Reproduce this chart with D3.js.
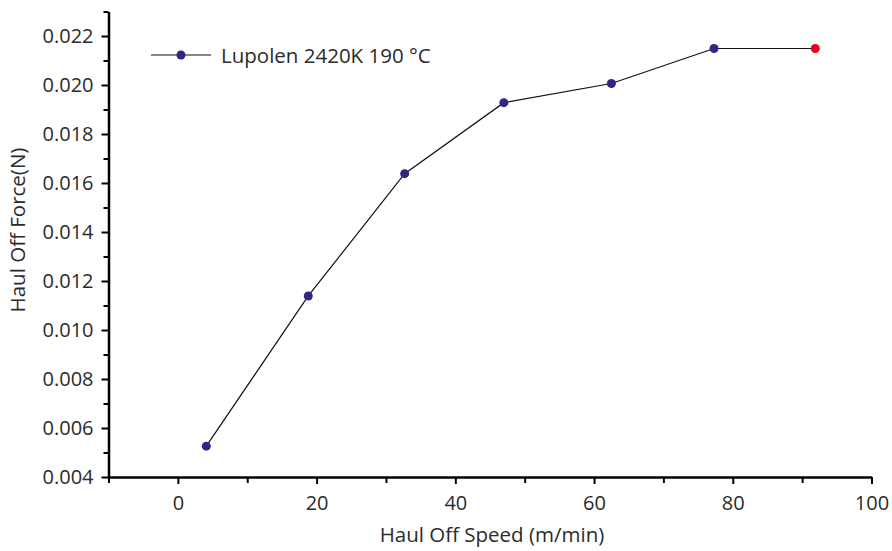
<!DOCTYPE html>
<html>
<head>
<meta charset="utf-8">
<script src="https://cdn.jsdelivr.net/npm/d3@7"></script>
<style>
body { margin: 0; background: #fff; }
text { font-family: "Open Sans", "Noto Sans", sans-serif; fill: #2b2b2b; }
</style>
</head>
<body>
<div id="chart"></div>
<script>
chart_width = 892;
chart_height = 551;

// data
speeds = [4.1, 18.8, 32.7, 47.0, 62.5, 77.3, 91.9];
forces = [0.00526, 0.01139, 0.01638, 0.01928, 0.02006, 0.02149, 0.02149];
point_colors = ['#2e2884', '#2e2884', '#2e2884', '#2e2884', '#2e2884', '#2e2884', '#e8001a'];
x_ticks = [0, 20, 40, 60, 80, 100];
y_ticks = [0.004, 0.006, 0.008, 0.010, 0.012, 0.014, 0.016, 0.018, 0.020, 0.022];
series_name = 'Lupolen 2420K 190 °C';

x_scale = d3.scaleLinear()
	.domain([-10, 100])
	.range([108.5, 871.5]);

y_scale = d3.scaleLinear()
	.domain([0.004, 0.023])
	.range([477, 11.5]);

svg = d3.select('#chart')
	.append('svg')
	.attr('width', chart_width)
	.attr('height', chart_height);

// minor ticks
svg.append('g')
	.attr('transform', 'translate(0,477)')
	.call(d3.axisBottom(x_scale).tickValues(d3.range(-10, 101, 20)).tickSize(6).tickFormat(''))
	.call((g) => g.select('.domain').remove())
	.selectAll('line').attr('stroke-width', 2);

svg.append('g')
	.attr('transform', 'translate(108.5,0)')
	.call(d3.axisLeft(y_scale).tickValues(d3.range(0.005, 0.0235, 0.002)).tickSize(5).tickFormat(''))
	.call((g) => g.select('.domain').remove())
	.selectAll('line').attr('stroke-width', 2);

// major ticks + labels
x_axis = svg.append('g')
	.attr('transform', 'translate(0,477)')
	.call(d3.axisBottom(x_scale).tickValues(x_ticks).tickSize(7).tickSizeOuter(0).tickPadding(12).tickFormat(d3.format('d')));

y_axis = svg.append('g')
	.attr('transform', 'translate(108.5,0)')
	.call(d3.axisLeft(y_scale).tickValues(y_ticks).tickSize(7).tickSizeOuter(0).tickPadding(8).tickFormat(d3.format('.3f')));

[x_axis, y_axis].forEach(function(ax) {
	ax.select('.domain').attr('stroke-width', 2.5);
	ax.selectAll('line').attr('stroke-width', 2);
	ax.selectAll('text')
		.attr('font-size', 20)
		.attr('font-family', '"Open Sans", "Noto Sans", sans-serif')
		.attr('fill', '#2b2b2b');
});

// axis titles
svg.append('text')
	.attr('x', 492)
	.attr('y', 542)
	.attr('text-anchor', 'middle')
	.attr('font-size', 20.5)
	.text('Haul Off Speed (m/min)');

svg.append('text')
	.attr('transform', 'translate(25,230) rotate(-90)')
	.attr('text-anchor', 'middle')
	.attr('font-size', 20.5)
	.text('Haul Off Force(N)');

// line
points = speeds.map((s, i) => ({ x: s, y: forces[i], c: point_colors[i] }));

svg.append('path')
	.datum(points)
	.attr('fill', 'none')
	.attr('stroke', '#111')
	.attr('stroke-width', 1.2)
	.attr('d', d3.line().x((d) => x_scale(d.x)).y((d) => y_scale(d.y)));

svg.selectAll('circle.pt')
	.data(points)
	.enter()
	.append('circle')
	.attr('class', 'pt')
	.attr('cx', (d) => x_scale(d.x))
	.attr('cy', (d) => y_scale(d.y))
	.attr('r', 4.5)
	.attr('fill', (d) => d.c);

// legend
legend = svg.append('g');
legend.append('line')
	.attr('x1', 151).attr('x2', 211)
	.attr('y1', 55).attr('y2', 55)
	.attr('stroke', '#111')
	.attr('stroke-width', 1.2);
legend.append('circle')
	.attr('cx', 181).attr('cy', 55).attr('r', 4.5)
	.attr('fill', point_colors[0]);
legend.append('text')
	.attr('x', 221)
	.attr('y', 62.5)
	.attr('font-size', 20.5)
	.text(series_name);
</script>
</body>
</html>
